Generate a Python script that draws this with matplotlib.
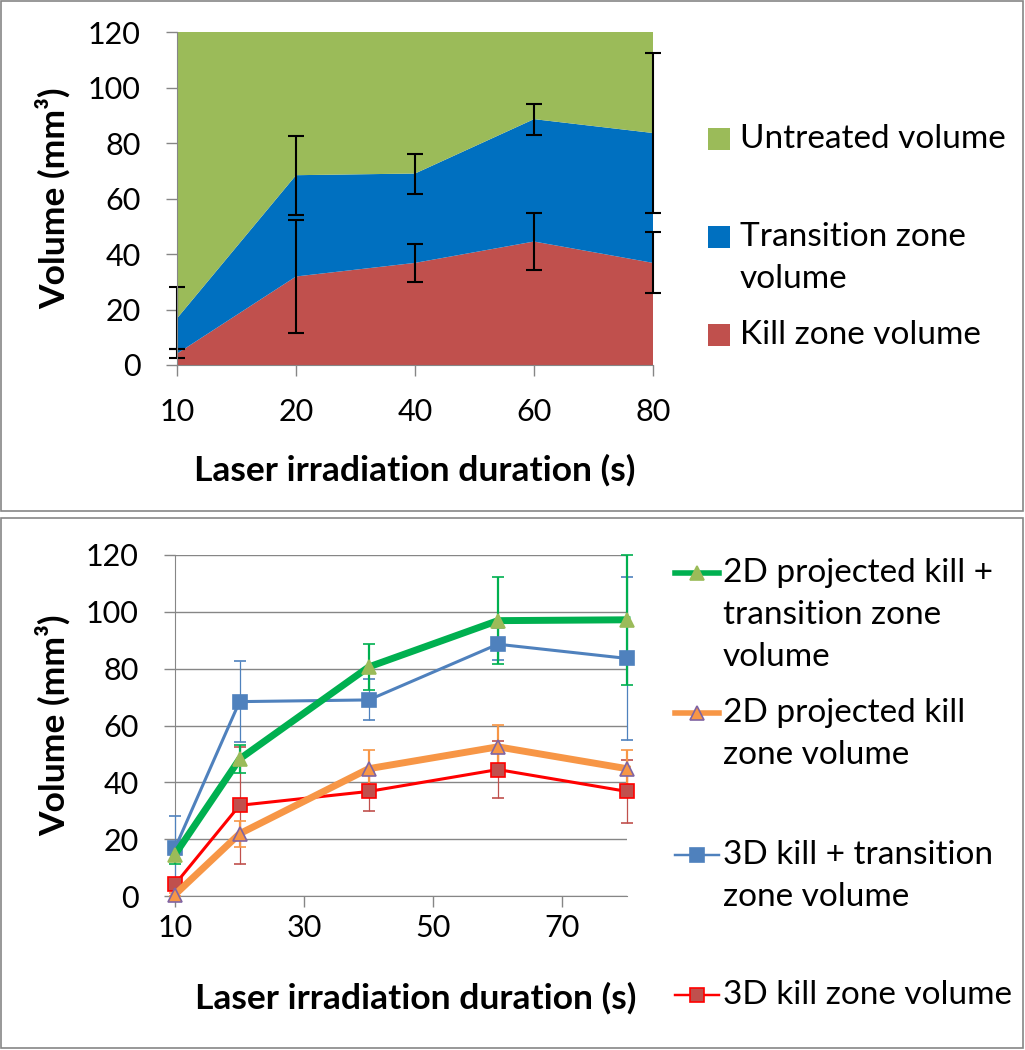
import matplotlib
matplotlib.use("Agg")
import matplotlib.pyplot as plt
from matplotlib.lines import Line2D
from matplotlib.patches import Rectangle
import numpy as np

plt.rcParams['font.family'] = ['Lato', 'DejaVu Sans']

# durations (s)
durations = [10, 20, 40, 60, 80]
dur_labels = ['10', '20', '40', '60', '80']

# 3D volumes (mm^3)
kill_3d = [4.1, 31.9, 36.8, 44.5, 36.8]
kill_3d_err = [1.5, 20.5, 6.9, 10.1, 11.0]
total_3d = [16.8, 68.4, 69.0, 88.6, 83.6]
total_3d_err = [11.2, 14.2, 7.2, 5.6, 28.8]

# 2D projected volumes (mm^3)
kill_2d = [0.5, 21.9, 44.8, 52.5, 44.8]
kill_2d_err = [0.5, 4.6, 6.6, 7.7, 6.6]
total_2d = [14.6, 48.2, 80.6, 96.9, 97.2]
total_2d_err = [3.5, 5.0, 8.2, 15.2, 22.8]

area_colors = ['#C0504D', '#0070C0', '#9BBB59']
grey = '#868686'
TICK_FS = 22
LAB_FS = 25.5
LEG_FS = 24
W, H = 1025, 1050


def fx(px):
    return px / W


def fy(py):
    return 1 - py / H


def legend_text(x, y, txt):
    # one fig.text per line, 42 px line pitch
    for k, line in enumerate(txt.split('\n')):
        fig.text(fx(x), fy(y + 42 * k), line, fontsize=LEG_FS, va='center', ha='left')


fig = plt.figure(figsize=(W / 100, H / 100), dpi=100)

# panel frames
fig.add_artist(Rectangle((fx(1), fy(511)), fx(1022), 510 / H, transform=fig.transFigure,
                         fill=False, edgecolor=grey, linewidth=1.2))
fig.add_artist(Rectangle((fx(1), fy(1048)), fx(1022), 530 / H, transform=fig.transFigure,
                         fill=False, edgecolor=grey, linewidth=1.2))

# ---------------- top: stacked area ----------------
ax1 = fig.add_axes([fx(177), fy(365), 476 / W, 333 / H])
xs = np.arange(len(durations))
transition = np.array(total_3d) - np.array(kill_3d)
untreated = 120 - np.array(total_3d)
ax1.stackplot(xs, kill_3d, transition, untreated, colors=area_colors, linewidth=0)
for vals, errs in [(kill_3d, kill_3d_err), (total_3d, total_3d_err)]:
    ax1.errorbar(xs, vals, yerr=errs, fmt='none', ecolor='black',
                 elinewidth=1.5, capsize=6, capthick=1.5, clip_on=False, zorder=5)
ax1.set_xlim(0, 4)
ax1.set_ylim(0, 120)
ax1.set_yticks(range(0, 121, 20))
ax1.set_xticks(xs)
ax1.set_xticklabels(dur_labels)
for s in ['top', 'right']:
    ax1.spines[s].set_visible(False)
for s in ['left', 'bottom']:
    ax1.spines[s].set_color(grey)
    ax1.spines[s].set_zorder(6)
ax1.tick_params(axis='both', colors=grey, length=8, width=1, labelsize=TICK_FS,
                labelcolor='black', direction='out')
ax1.tick_params(axis='x', pad=16)
ax1.tick_params(axis='y', pad=18)
ax1.set_ylabel('Volume (mm³)', fontsize=LAB_FS, fontweight='bold', va='center')
ax1.yaxis.set_label_coords((53 - 177) / 476, 0.5)
ax1.set_xlabel('Laser irradiation duration (s)', fontsize=LAB_FS, fontweight='bold', va='center')
ax1.xaxis.set_label_coords(0.5, (365 - 470) / 333)

top_legend = [('Untreated volume', area_colors[2], 139),
              ('Transition zone\nvolume', area_colors[1], 237),
              ('Kill zone volume', area_colors[0], 335)]
for txt, col, ypx in top_legend:
    fig.add_artist(Rectangle((fx(708), fy(ypx + 11)), 22 / W, 22 / H,
                             transform=fig.transFigure, facecolor=col, edgecolor='none'))
    legend_text(740, ypx, txt)

# ---------------- bottom: lines ----------------
ax2 = fig.add_axes([fx(175), fy(896), 452 / W, 341 / H])
# values, errors, line colour, width, marker, face, edge, error colour, error width
series = [
    (total_2d, total_2d_err, '#00B050', 5, '^', '#9BBB59', '#9BBB59', '#00B050', 1.6),
    (kill_2d, kill_2d_err, '#F79646', 5, '^', '#F79646', '#8064A2', '#F79646', 1.6),
    (total_3d, total_3d_err, '#4F81BD', 2.2, 's', '#4F81BD', '#4F81BD', '#4F81BD', 0.9),
    (kill_3d, kill_3d_err, '#FF0000', 2.2, 's', '#C0504D', '#FF0000', '#C0504D', 0.9),
]
for vals, errs, col, lw, mk, mfc, mec, ecol, elw in series[::-1]:
    ax2.errorbar(durations, vals, yerr=errs, color=col, linewidth=lw, marker=mk,
                 markersize=10, markerfacecolor=mfc, markeredgecolor=mec,
                 markeredgewidth=1.2, ecolor=ecol, elinewidth=elw, capsize=4, capthick=elw,
                 clip_on=False, zorder=3)
ax2.set_xlim(10, 80)
ax2.set_ylim(0, 120)
ax2.set_xticks([10, 30, 50, 70])
ax2.set_yticks(range(0, 121, 20))
ax2.grid(axis='y', color=grey, linewidth=1)
ax2.set_axisbelow(True)
for s in ['top', 'right']:
    ax2.spines[s].set_visible(False)
for s in ['left', 'bottom']:
    ax2.spines[s].set_color(grey)
ax2.tick_params(axis='both', colors=grey, length=8, width=1, labelsize=TICK_FS,
                labelcolor='black', direction='out')
ax2.tick_params(axis='x', pad=5)
ax2.tick_params(axis='y', pad=18)
ax2.set_ylabel('Volume (mm³)', fontsize=LAB_FS, fontweight='bold', va='center')
ax2.yaxis.set_label_coords((53 - 175) / 452, 0.5)
ax2.set_xlabel('Laser irradiation duration (s)', fontsize=LAB_FS, fontweight='bold', va='center')
ax2.xaxis.set_label_coords((416 - 175) / 452, (896 - 998) / 341)

bottom_legend = [
    ('2D projected kill +\ntransition zone\nvolume', 0, 573),
    ('2D projected kill\nzone volume', 1, 713),
    ('3D kill + transition\nzone volume', 2, 855),
    ('3D kill zone volume', 3, 995),
]
for txt, i, ypx in bottom_legend:
    vals, errs, col, lw, mk, mfc, mec, ecol, elw = series[i]
    fig.add_artist(Line2D([fx(675), fx(719)], [fy(ypx)] * 2,
                          transform=fig.transFigure, color=col, linewidth=lw * 0.8))
    fig.add_artist(Line2D([fx(697)], [fy(ypx)], transform=fig.transFigure,
                          marker=mk, markersize=10, markerfacecolor=mfc,
                          markeredgecolor=mec, markeredgewidth=1.2, linestyle='none'))
    legend_text(723, ypx, txt)

fig.savefig('out.png', dpi=100)
